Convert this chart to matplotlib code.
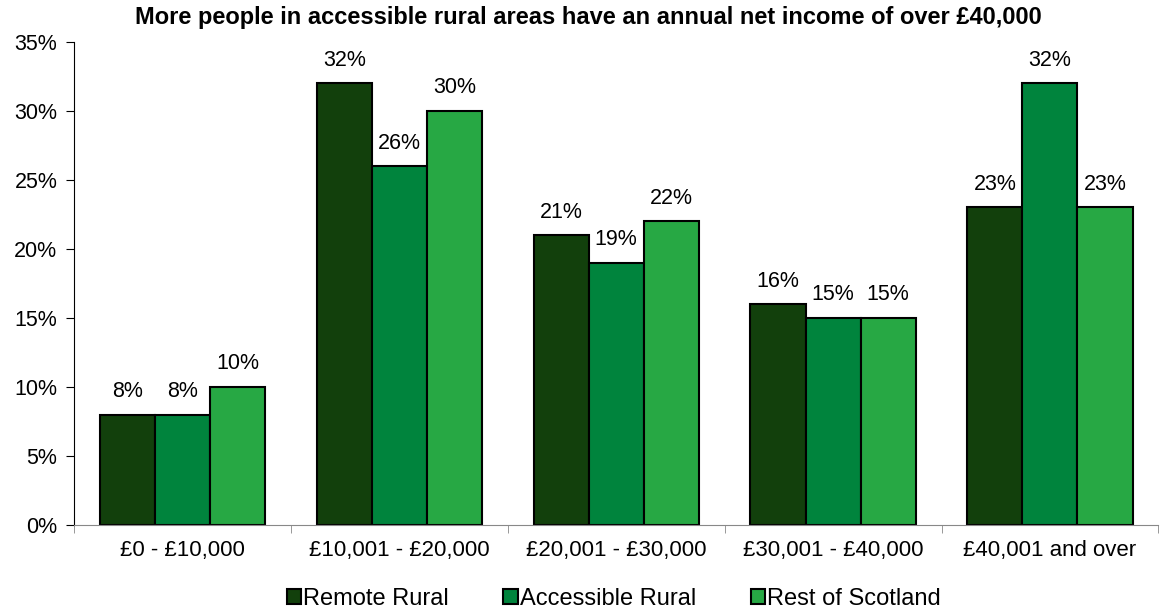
import matplotlib.pyplot as plt
import numpy as np

plt.rcParams['font.family'] = ['Liberation Sans', 'DejaVu Sans']

categories = ['£0 - £10,000', '£10,001 - £20,000', '£20,001 - £30,000',
              '£30,001 - £40,000', '£40,001 and over']
series = ['Remote Rural', 'Accessible Rural', 'Rest of Scotland']
remote = [8, 32, 21, 16, 23]
accessible = [8, 26, 19, 15, 32]
rest = [10, 30, 22, 15, 23]
colors = ['#12400c', '#00843d', '#27a844']

fig = plt.figure(figsize=(11.76, 6.14), dpi=100)
ax = fig.add_axes([0.063, 0.145, 0.922, 0.787])

x = np.arange(len(categories))
w = 0.254
for i, (vals, c, name) in enumerate(zip([remote, accessible, rest], colors, series)):
    pos = x + (i - 1) * w
    ax.bar(pos, vals, w, color=c, edgecolor='black', linewidth=1.5, label=name)
    for p, v in zip(pos, vals):
        ax.text(p, v + 0.9, f'{v}%', ha='center', va='bottom', fontsize=15.5)

ax.set_xlim(-0.5, len(categories) - 0.5)
ax.set_ylim(0, 35)
ax.set_yticks(np.arange(0, 36, 5))
ax.set_yticklabels([f'{t}%' for t in range(0, 36, 5)], fontsize=15.5)
ax.set_xticks(x)
ax.set_xticklabels(categories, fontsize=16)
ax.tick_params(axis='x', length=0, pad=11)
ax.set_xticks(np.arange(-0.5, len(categories), 1), minor=True)
ax.tick_params(axis='x', which='minor', length=6, color='#888888')
ax.tick_params(axis='y', length=6, pad=6)
ax.spines['top'].set_visible(False)
ax.spines['right'].set_visible(False)
ax.spines['bottom'].set_color('#888888')

fig.suptitle('More people in accessible rural areas have an annual net income of over £40,000',
             x=0.5, y=0.972, va='center', fontsize=17, fontweight='bold')

fig.legend(*ax.get_legend_handles_labels(), loc='center', bbox_to_anchor=(0.522, 0.025),
           ncol=3, frameon=False, fontsize=17, handlelength=0.6, handleheight=0.6,
           handletextpad=0.1, columnspacing=2.3, borderaxespad=0, borderpad=0)

fig.savefig('out.png', dpi=100)
